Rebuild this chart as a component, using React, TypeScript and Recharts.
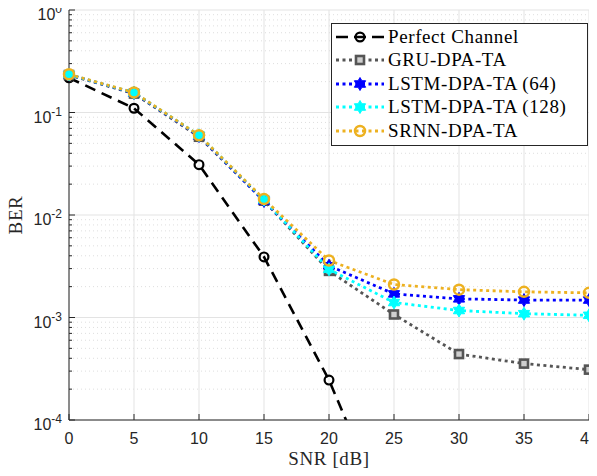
import { LineChart, Line, XAxis, YAxis, CartesianGrid, Legend } from "recharts"

// SNR sweep and BER curves
const snr = [0, 5, 10, 15, 20, 25, 30, 35, 40]
const perfect = [0.218, 0.11, 0.031, 0.0039, 0.000245, 0.000008, null, null, null]
const gru = [0.232, 0.153, 0.058, 0.0138, 0.00285, 0.00107, 0.00044, 0.000355, 0.00031]
const lstm64 = [0.234, 0.155, 0.059, 0.0137, 0.0032, 0.0017, 0.00152, 0.00148, 0.00148]
const lstm128 = [0.235, 0.156, 0.06, 0.0141, 0.00295, 0.0014, 0.00117, 0.00109, 0.00105]
const srnn = [0.236, 0.157, 0.06, 0.0143, 0.0036, 0.0021, 0.00187, 0.00178, 0.00174]

const xTicks = [0, 5, 10, 15, 20, 25, 30, 35, 40]
const decades = [1e-4, 1e-3, 1e-2, 1e-1, 1]
const minors = [-4, -3, -2, -1].flatMap(e => [2, 3, 4, 5, 6, 7, 8, 9].map(k => k * Math.pow(10, e)))
const yTicks = [...decades, ...minors].sort((a, b) => a - b)

const data = snr.map((s, i) => ({
  snr: s, perfect: perfect[i], gru: gru[i], lstm64: lstm64[i], lstm128: lstm128[i], srnn: srnn[i],
}))

const AX = "#262626"
const SANS = "'Liberation Sans', Arial, sans-serif"
const SERIF = "'Liberation Serif', 'Times New Roman', serif"

const C = { perfect: "#000000", gru: "#555555", lstm64: "#0000ff", lstm128: "#00ffff", srnn: "#edb120" }

const isMajor = (v: number) => Math.abs(Math.log10(v) - Math.round(Math.log10(v))) < 1e-6

function Hexagram({ cx, cy, color, R = 6.5 }: { cx: number, cy: number, color: string, R?: number }) {
  const r = R / Math.sqrt(3)
  const pts = Array.from({ length: 12 }, (_, i) => {
    const a = -Math.PI / 2 + i * Math.PI / 6
    const rr = i % 2 === 0 ? R : r
    return `${cx + rr * Math.cos(a)},${cy + rr * Math.sin(a)}`
  }).join(" ")
  return <polygon points={pts} fill={color} stroke={color} strokeWidth={1} />
}

type Kind = "circleK" | "square" | "hex64" | "hex128" | "circleO"

function Marker({ kind, cx, cy }: { kind: Kind, cx: number, cy: number }) {
  if (kind === "circleK") return <circle cx={cx} cy={cy} r={4.4} fill="none" stroke={C.perfect} strokeWidth={2.2} />
  if (kind === "circleO") return <circle cx={cx} cy={cy} r={5} fill="none" stroke={C.srnn} strokeWidth={2.5} />
  if (kind === "square") return <rect x={cx - 4} y={cy - 4} width={8} height={8} fill="#cfcfcf" stroke={C.gru} strokeWidth={2.6} />
  return <Hexagram cx={cx} cy={cy} color={kind === "hex64" ? C.lstm64 : C.lstm128} />
}

const dotFor = (kind: Kind) => (p: any) => {
  if (p.cy == null || p.value == null || isNaN(p.cy)) return <g key={p.index} />
  return <g key={p.index}><Marker kind={kind} cx={p.cx} cy={p.cy} /></g>
}

function BottomTick({ x, y, payload }: any) {
  return (
    <g>
      <line x1={x} y1={y} x2={x} y2={y - 6} stroke={AX} />
      <text x={x} y={y + 24} textAnchor="middle" fontFamily={SANS} fontSize={16} fill={AX}>{payload.value}</text>
    </g>
  )
}

function TopTick({ x, y }: any) {
  return <line x1={x} y1={y} x2={x} y2={y + 6} stroke={AX} />
}

function LeftTick({ x, y, payload }: any) {
  const v = payload.value
  const major = isMajor(v)
  return (
    <g>
      <line x1={x} y1={y} x2={x + (major ? 6 : 3)} y2={y} stroke={AX} />
      {major && (
        <text x={x - 7} y={y + 10} textAnchor="end" fontFamily={SANS} fontSize={16} fill={AX}>
          10<tspan dy={-7} fontSize={12}>{Math.round(Math.log10(v))}</tspan>
        </text>
      )}
    </g>
  )
}

function RightTick({ x, y, payload }: any) {
  const major = isMajor(payload.value)
  return <line x1={x} y1={y} x2={x - (major ? 6 : 3)} y2={y} stroke={AX} />
}

const legendRows: { label: string, kind: Kind, color: string, dash: string, w: number }[] = [
  { label: "Perfect Channel", kind: "circleK", color: C.perfect, dash: "12 6", w: 2.6 },
  { label: "GRU-DPA-TA", kind: "square", color: C.gru, dash: "3 3.5", w: 2.8 },
  { label: "LSTM-DPA-TA (64)", kind: "hex64", color: C.lstm64, dash: "3 3.5", w: 2.8 },
  { label: "LSTM-DPA-TA (128)", kind: "hex128", color: C.lstm128, dash: "3 3.5", w: 2.8 },
  { label: "SRNN-DPA-TA", kind: "circleO", color: C.srnn, dash: "3 3.5", w: 2.8 },
]

function LegendBox() {
  return (
    <div style={{ border: `1px solid ${AX}`, background: "#fff", width: 255, height: 120, paddingTop: 1, boxSizing: "content-box" }}>
      {legendRows.map(r => (
        <div key={r.label} style={{ display: "flex", alignItems: "center", height: 23.5 }}>
          <svg width={56} height={20} style={{ flex: "none" }}>
            <line x1={4} y1={10} x2={52} y2={10} stroke={r.color} strokeWidth={r.w} strokeDasharray={r.dash} />
            <Marker kind={r.kind} cx={28} cy={10} />
          </svg>
          <span style={{ fontFamily: SERIF, fontSize: 19, letterSpacing: 0.6, color: "#000", whiteSpace: "nowrap" }}>{r.label}</span>
        </div>
      ))}
    </div>
  )
}

export default function App() {
  return (
    <div style={{ margin: -8, width: 597, height: 476 }}>
      <LineChart width={597} height={476} data={data} margin={{ top: 10, right: 8, bottom: 0, left: 0 }}>
        <CartesianGrid stroke="#e3e3e3" horizontalValues={decades} verticalValues={xTicks} />
        <CartesianGrid stroke="#dedede" strokeDasharray="1 3" horizontalValues={minors} vertical={false} />
        <XAxis dataKey="snr" type="number" domain={[0, 40]} ticks={xTicks} height={56}
          tickSize={0} tickMargin={0} tickLine={false} axisLine={{ stroke: AX }} tick={<BottomTick />}
          label={(p: any) => {
            const vb = p.viewBox
            return <text x={vb.x + vb.width / 2} y={vb.y + 45} textAnchor="middle" fontFamily={SERIF} fontSize={19} letterSpacing={0.6} fill={AX}>SNR [dB]</text>
          }} />
        <XAxis xAxisId="top" orientation="top" type="number" domain={[0, 40]} ticks={xTicks} height={0}
          tickSize={0} tickMargin={0} tickLine={false} axisLine={{ stroke: AX }} tick={<TopTick />} />
        <YAxis scale="log" type="number" domain={[1e-4, 1]} allowDataOverflow ticks={yTicks} width={69} interval={0}
          tickSize={0} tickMargin={0} tickLine={false} axisLine={{ stroke: AX }} tick={<LeftTick />}
          label={(p: any) => {
            const vb = p.viewBox
            const cy = vb.y + vb.height / 2
            return <text x={15} y={cy} transform={`rotate(-90 15 ${cy})`} textAnchor="middle" dominantBaseline="central" fontFamily={SERIF} fontSize={19} letterSpacing={0.6} fill={AX}>BER</text>
          }} />
        <YAxis yAxisId="right" orientation="right" scale="log" type="number" domain={[1e-4, 1]} ticks={yTicks} width={0} interval={0}
          tickSize={0} tickMargin={0} tickLine={false} axisLine={{ stroke: AX }} tick={<RightTick />} />
        <Line type="linear" dataKey="perfect" stroke={C.perfect} strokeWidth={2.6} strokeDasharray="11 7" dot={dotFor("circleK")} isAnimationActive={false} />
        <Line type="linear" dataKey="gru" stroke={C.gru} strokeWidth={2.8} strokeDasharray="3 3.5" dot={dotFor("square")} isAnimationActive={false} />
        <Line type="linear" dataKey="lstm64" stroke={C.lstm64} strokeWidth={2.8} strokeDasharray="3 3.5" dot={dotFor("hex64")} isAnimationActive={false} />
        <Line type="linear" dataKey="lstm128" stroke={C.lstm128} strokeWidth={2.8} strokeDasharray="3 3.5" dot={dotFor("hex128")} isAnimationActive={false} />
        <Line type="linear" dataKey="srnn" stroke={C.srnn} strokeWidth={2.8} strokeDasharray="3 3.5" dot={dotFor("circleO")} isAnimationActive={false} />
        <Legend layout="vertical" align="center" verticalAlign="middle" content={<LegendBox />}
          wrapperStyle={{ left: 331, top: 23, width: 257, height: 122 }} />
      </LineChart>
    </div>
  )
}
